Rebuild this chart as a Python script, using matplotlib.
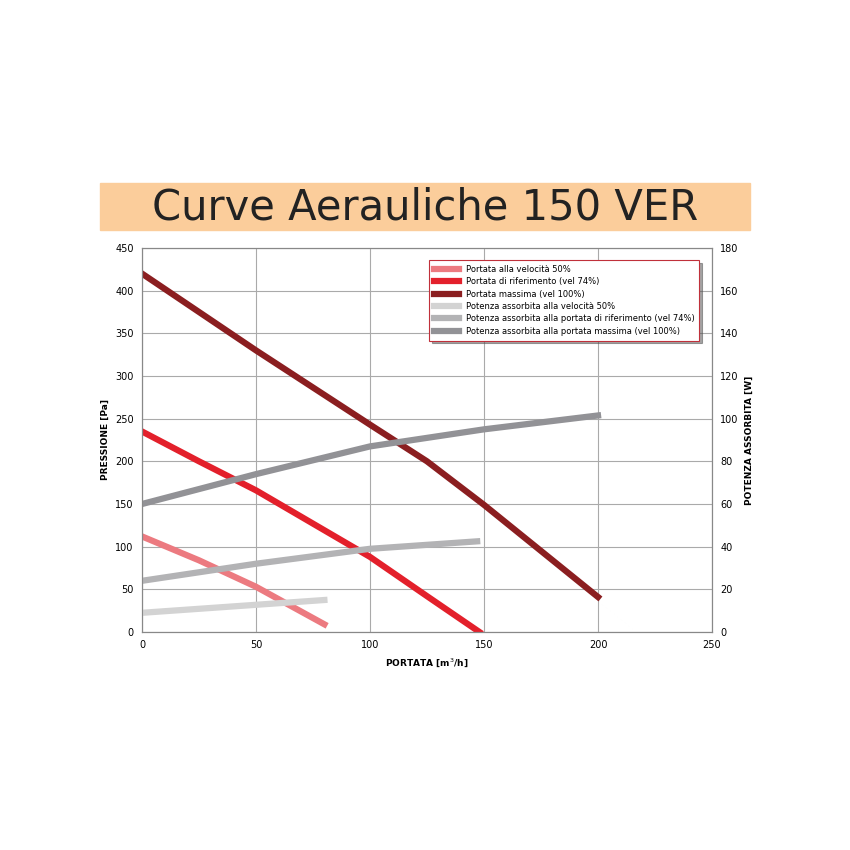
import matplotlib.pyplot as plt
from matplotlib.patches import Rectangle

# pressure curves [Pa] vs flow [m3/h]
q_50 = [0, 25, 50, 80]
p_50 = [112, 84, 53, 9]
q_74 = [0, 25, 50, 75, 100, 125, 148]
p_74 = [235, 200, 166, 127, 88, 42, 0]
q_100 = [0, 50, 100, 125, 150, 175, 200]
p_100 = [420, 330, 243, 200, 149, 95, 41]

# absorbed power [W]
w_50 = [9, 12, 15]
wq_50 = [0, 40, 80]
wq_74 = [0, 50, 100, 147]
w_74 = [24, 32, 39, 42.5]
wq_100 = [0, 50, 100, 125, 150, 200]
w_100 = [60, 74, 87, 91, 95, 101.5]

labels = ["Portata alla velocità 50%", "Portata di riferimento (vel 74%)",
          "Portata massima (vel 100%)", "Potenza assorbita alla velocità 50%",
          "Potenza assorbita alla portata di riferimento (vel 74%)",
          "Potenza assorbita alla portata massima (vel 100%)"]
colors = ["#ec7a80", "#e3202b", "#8b1e20", "#d3d3d3", "#b3b3b5", "#929296"]

fig = plt.figure(figsize=(8.5, 8.5), dpi=100)
fig.patches.append(Rectangle((100/850, 1-230/850), 650/850, 47/850,
                             transform=fig.transFigure, color="#fbcd9b", zorder=0))
fig.text(0.5, 1-207/850, "Curve Aerauliche 150 VER", ha="center", va="center",
         fontsize=30, family=["Liberation Sans Narrow", "DejaVu Sans"], color="#222222")

ax = fig.add_axes([142/850, 1-632/850, 570/850, 384/850])
ax2 = ax.twinx()
lw = 4.5
h = []
h += ax.plot(q_50, p_50, color=colors[0], lw=lw)
h += ax.plot(q_74, p_74, color=colors[1], lw=lw)
h += ax.plot(q_100, p_100, color=colors[2], lw=lw)
h += ax2.plot(wq_50, w_50, color=colors[3], lw=lw)
h += ax2.plot(wq_74, w_74, color=colors[4], lw=lw)
h += ax2.plot(wq_100, w_100, color=colors[5], lw=lw)

ax.set_xlim(0, 250)
ax.set_ylim(0, 450)
ax2.set_ylim(0, 180)
ax.set_xticks(range(0, 251, 50))
ax.set_yticks(range(0, 451, 50))
ax2.set_yticks(range(0, 181, 20))
ax.grid(True, color="#aaaaaa", lw=0.8)
for a in (ax, ax2):
    a.tick_params(labelsize=7, length=0, pad=6)
    for s in a.spines.values():
        s.set_color("#888888")
        s.set_linewidth(0.8)
ax.set_xlabel("PORTATA [m$^3$/h]", fontsize=6.5, fontweight="bold")
ax.set_ylabel("PRESSIONE [Pa]", fontsize=6.5, fontweight="bold")
ax2.set_ylabel("POTENZA ASSORBITA [W]", fontsize=6.5, fontweight="bold")

leg = ax2.legend(h, labels, loc="upper right", bbox_to_anchor=(0.985, 0.98),
                 fontsize=6, fancybox=False, shadow=True, handlelength=3,
                 framealpha=1, borderpad=0.6, labelspacing=0.4)
leg.get_frame().set_edgecolor("#c0303a")
leg.get_frame().set_linewidth(0.8)

fig.savefig("out.png", dpi=100)
